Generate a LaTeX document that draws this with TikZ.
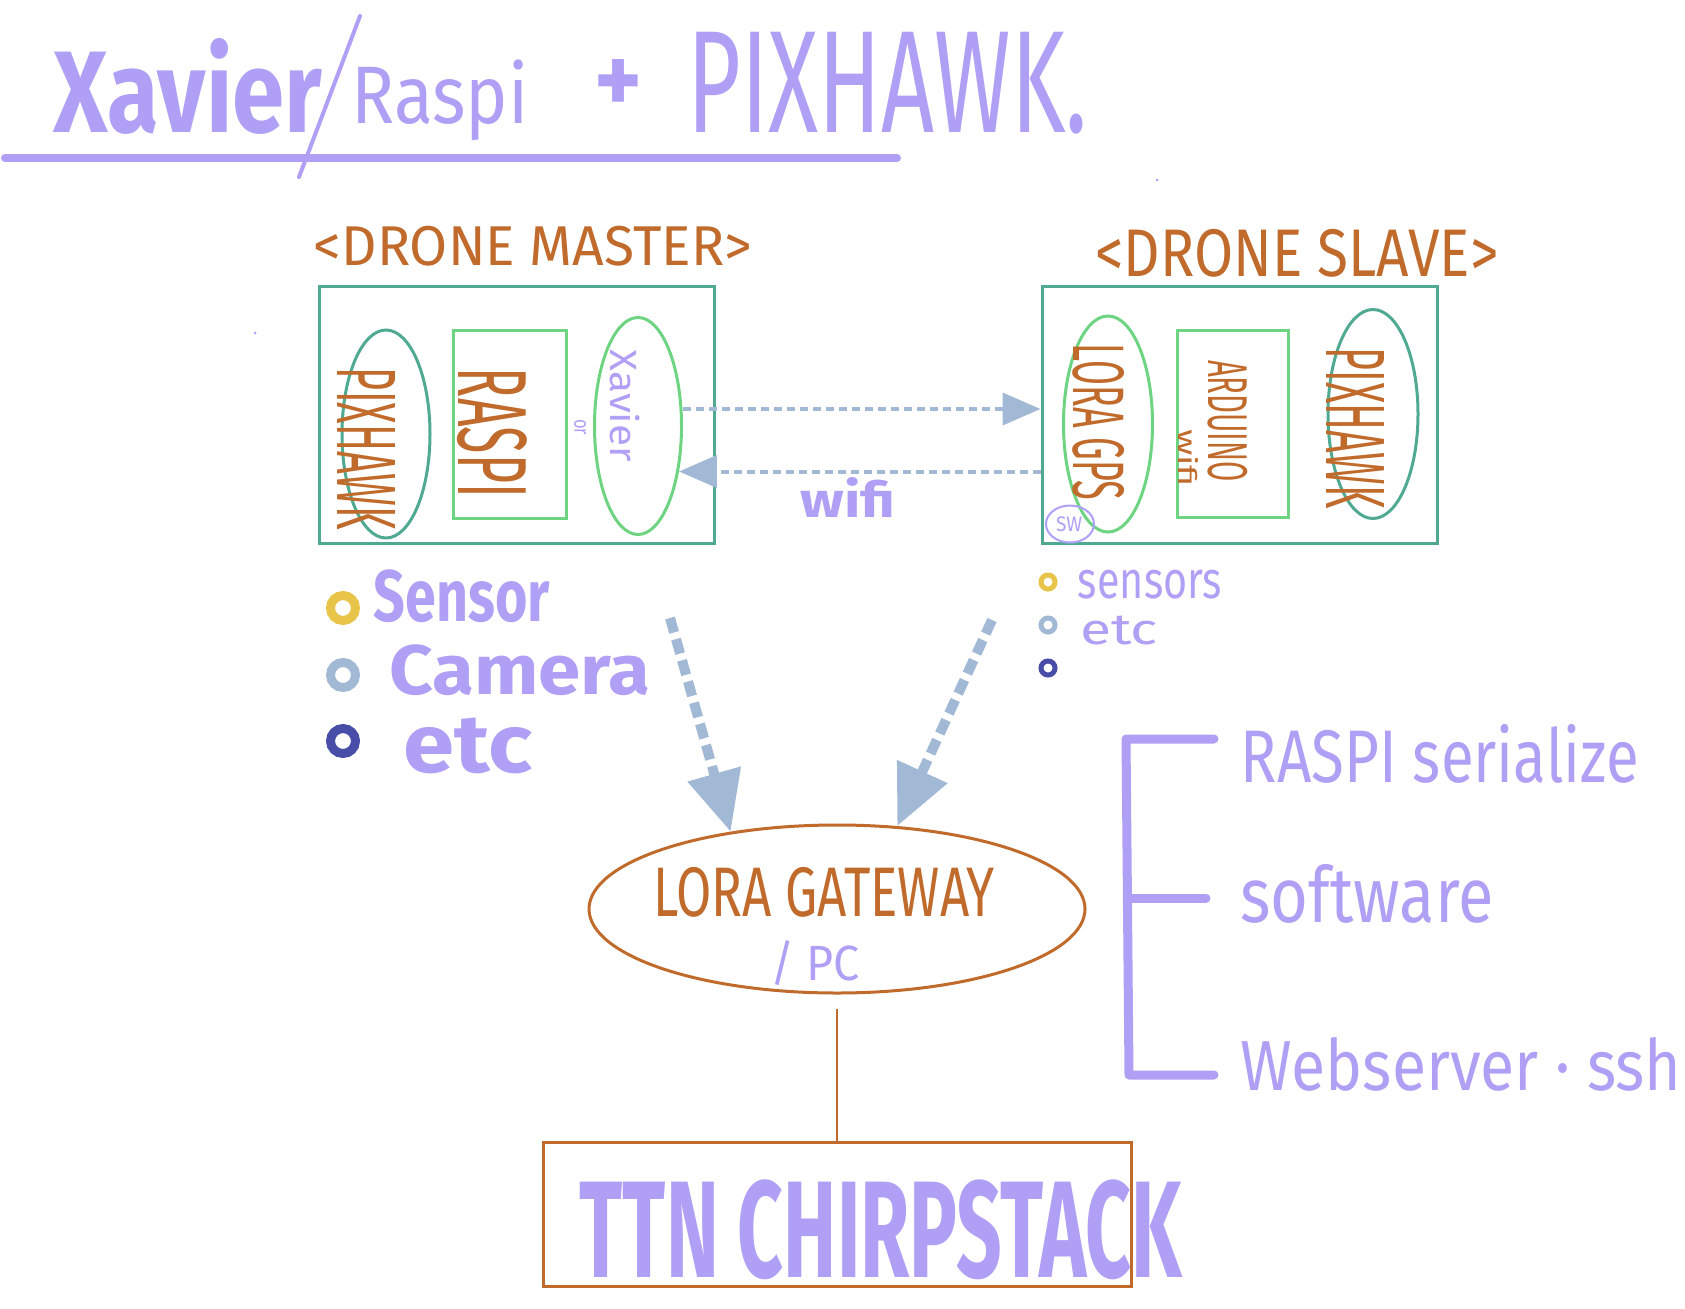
\documentclass[tikz,border=0pt]{standalone}
\usepackage{fontspec}
\setmainfont{Fira Sans}
\usetikzlibrary{shapes.geometric,arrows.meta,calc}
\definecolor{lav}{RGB}{175,160,245}
\definecolor{brn}{RGB}{192,106,43}
\definecolor{teal}{RGB}{80,170,145}
\definecolor{grn}{RGB}{110,212,130}
\definecolor{arrc}{RGB}{162,185,214}
\definecolor{yel}{RGB}{232,196,72}
\definecolor{navy}{RGB}{72,78,168}
\newcommand\hw[3]{\resizebox*{#1pt}{#2pt}{#3}}
\tikzset{
  lavtext/.style={text=lav, inner sep=0pt, outer sep=0pt},
  brtext/.style={text=brn, inner sep=0pt, outer sep=0pt},
  bigbox/.style={draw=teal, line width=3pt, rectangle, inner sep=0pt},
  greenbox/.style={draw=grn, line width=3pt, rectangle, inner sep=0pt},
  tealell/.style={draw=teal, line width=3pt, ellipse, inner sep=0pt},
  greenell/.style={draw=grn, line width=3pt, ellipse, inner sep=0pt},
  brnshape/.style={draw=brn, line width=3pt, inner sep=0pt},
  wifiarr/.style={draw=arrc, line width=4pt, dash pattern=on 8pt off 5pt, -{Triangle[length=38pt,width=32pt]}},
  bigarr/.style={draw=arrc, line width=10pt, dash pattern=on 15pt off 7pt, -{Triangle[length=60pt,width=53pt]}},
  ring/.style={line width=#1},
  bracket/.style={draw=lav, line width=9pt, line cap=round, line join=round},
}
\begin{document}
\begin{tikzpicture}[x=1pt,y=-1pt]
\useasboundingbox (0,0) rectangle (1685,1308);

% ---- title
\draw[lav, line width=8pt, line cap=round] (5,158) -- (897,158);
\node[lavtext] (tx) at (188,86) {\hw{268}{96}{\bfseries Xavier}};
\draw[lav, line width=4pt, line cap=round] (360,16) -- (299,177);
\node[lavtext] (tr) at (440,100) {\hw{177}{81}{Raspi}};
\node[lavtext] (tp) at (618,86) {\hw{48}{54}{\bfseries +}};
\node[lavtext] (th) at (888,83) {\hw{400}{102}{PIXHAWK.}};
\fill[lav] (255,333) circle[radius=1.5pt];
\fill[lav] (1157,180) circle[radius=1.5pt];

% ---- drone master
\node[brtext] (hm) at (533,246) {\hw{438}{40}{<DRONE MASTER>}};
\node[bigbox, minimum width=395pt, minimum height=257pt] (master) at (516.5,414.5) {};
\node[tealell, minimum width=88pt, minimum height=208pt] (mpix) at (386,434) {};
\node[brtext, rotate=-90] (mpixt) at (367,449) {\hw{162}{58}{PIXHAWK}};
\node[greenbox, minimum width=113pt, minimum height=188pt] (mras) at (509.5,424) {};
\node[brtext, rotate=-90] (mrast) at (492,433) {\hw{130}{70}{RASPI}};
\node[lavtext, rotate=-90] (mor) at (580,427) {\hw{16}{12}{or}};
\node[greenell, minimum width=87pt, minimum height=217pt] (xav) at (638,426) {};
\node[lavtext, rotate=-90] (xavt) at (625,406) {\hw{112}{30}{Xavier}};

% ---- drone slave
\node[brtext] (hs) at (1297,253) {\hw{403}{48}{<DRONE SLAVE>}};
\node[bigbox, minimum width=395pt, minimum height=257pt] (slave) at (1239.5,414.5) {};
\node[greenell, minimum width=89pt, minimum height=216pt] (lora) at (1108,424) {};
\node[brtext, rotate=-90] (lorat) at (1099,422) {\hw{156}{52}{LORA GPS}};
\node[greenbox, minimum width=111pt, minimum height=187pt] (ard) at (1232.5,423.5) {};
\node[brtext, rotate=-90] (ardt) at (1228,421) {\hw{122}{40}{ARDUINO}};
\node[brtext, rotate=-90] (ardw) at (1188,458) {\hw{58}{20}{wifi}};
\node[tealell, minimum width=90pt, minimum height=209pt] (spix) at (1373,414) {};
\node[brtext, rotate=-90] (spixt) at (1355,428) {\hw{161}{58}{PIXHAWK}};
\node[draw=lav, line width=2pt, ellipse, minimum width=48pt, minimum height=37pt, inner sep=0pt] (sw) at (1070,524) {};
\node[lavtext] (swt) at (1069,524) {\hw{26}{15}{SW}};

% ---- wifi arrows
\draw[wifiarr] ([yshift=17pt]xav.east) -- ([yshift=17pt]xav.east -| slave.west);
\draw[wifiarr] (xav.-48 -| slave.west) -- (xav.-48);
\node[lavtext] (wifi) at (848,497) {\hw{95}{40}{\bfseries wifi}};

% ---- legends
\draw[yel, ring=9pt] (343,608) circle[radius=12.5pt];
\draw[arrc, ring=9pt] (343,675) circle[radius=12.5pt];
\draw[navy, ring=9pt] (343,741) circle[radius=12.5pt];
\node[lavtext] (ls) at (462,596) {\hw{176}{53}{\bfseries Sensor}};
\node[lavtext] (lc) at (520,670) {\hw{261}{51}{\bfseries Camera}};
\node[lavtext] (le) at (468,746) {\hw{129}{56}{\bfseries etc}};
\draw[yel, ring=5pt] (1048,582) circle[radius=7pt];
\draw[arrc, ring=5pt] (1048,625) circle[radius=7pt];
\draw[navy, ring=5pt] (1048,668) circle[radius=7pt];
\node[lavtext] (rs) at (1150,585) {\hw{144}{29}{sensors}};
\node[lavtext] (re) at (1119,631) {\hw{78}{29}{etc}};

% ---- gateway
\node[brnshape, ellipse, minimum width=496pt, minimum height=168pt] (gw) at (837,909) {};
\node[brtext] (gwt) at (824,892) {\hw{342}{50}{LORA GATEWAY}};
\node[lavtext] (gwp) at (815,963) {\hw{90}{45}{/ PC}};
\coordinate (mstart) at (670,618);
\coordinate (sstart) at (992,620);
\draw[bigarr] (mstart) -- (gw.144);
\draw[bigarr] (sstart) -- (gw.54);

% ---- TTN
\node[brnshape, rectangle, minimum width=588pt, minimum height=144pt] (ttn) at (837,1214) {};
\draw[brn, line width=2pt] ([yshift=-14pt]gw.south) -- (ttn.north);
\node[lavtext] (ttnt) at (881,1230) {\hw{602}{100}{\bfseries TTN CHIRPSTACK}};

% ---- bracket
\draw[bracket] (1214,739) -- (1126,739) -- (1129,1075) -- (1214,1075);
\draw[bracket] (1128,898) -- (1206,898);
\node[lavtext] (b1) at (1440,754) {\hw{398}{59}{RASPI serialize}};
\node[lavtext] (b2) at (1367,894) {\hw{253}{59}{software}};
\node[lavtext] (b3) at (1461,1064) {\hw{441}{54}{Webserver · ssh}};
\end{tikzpicture}
\end{document}
